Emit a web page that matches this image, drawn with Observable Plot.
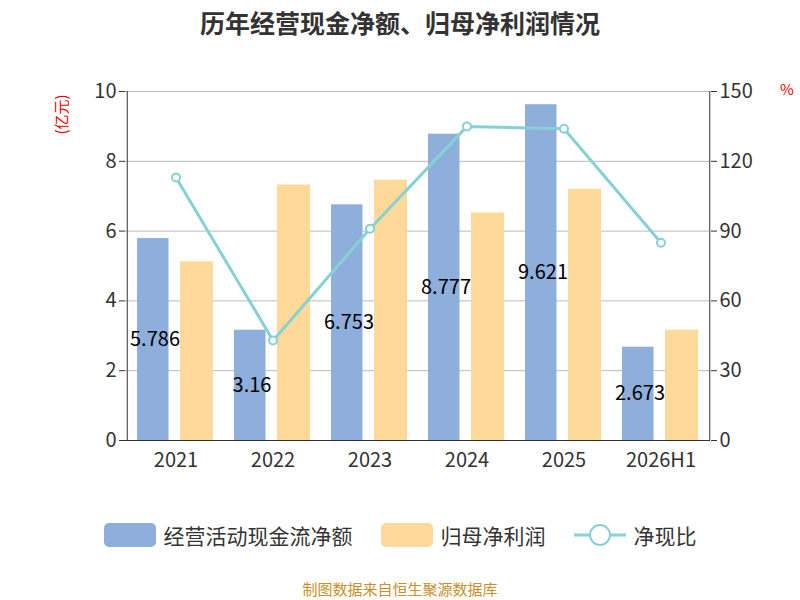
<!DOCTYPE html>
<html><head><meta charset="utf-8">
<script src="https://cdn.jsdelivr.net/npm/d3@7"></script>
<script src="https://cdn.jsdelivr.net/npm/@observablehq/plot@0.6"></script>
<style>
body{margin:0;width:800px;height:600px;font-family:"Noto Sans CJK SC","Noto Sans",sans-serif;background:#fff;position:relative;overflow:hidden}
#title{position:absolute;top:4px;width:800px;text-align:center;font-size:25px;font-weight:bold;color:#333}
#chart{position:absolute;top:60px;left:0}
#legend{position:absolute;top:520px;width:800px;display:flex;justify-content:center;gap:28px;font-size:21px;color:#333;align-items:center}
#legend span{display:flex;align-items:center;gap:8px}
#cap{position:absolute;top:578px;width:800px;text-align:center;font-size:15px;color:#c8902a}
.u{position:absolute;color:#e00;font-size:15px;white-space:nowrap}
</style></head><body>
<div id="title">历年经营现金净额、归母净利润情况</div>
<div id="chart"></div>
<div class="u" style="left:40px;top:104px;transform:rotate(-90deg)">(亿元)</div>
<div class="u" style="left:780px;top:78px">%</div>
<div id="legend">
<span><svg width="52" height="26"><rect x="0" y="1" width="52" height="24" rx="5" fill="#8eaedb"/></svg>经营活动现金流净额</span>
<span><svg width="52" height="26"><rect x="0" y="1" width="52" height="24" rx="5" fill="#ffd999"/></svg>归母净利润</span>
<span><svg width="52" height="26"><line x1="0" y1="13" x2="52" y2="13" stroke="#86d1d4" stroke-width="3"/><circle cx="26" cy="13" r="10" fill="#fff" stroke="#86d1d4" stroke-width="2"/></svg>净现比</span>
</div>
<div id="cap">制图数据来自恒生聚源数据库</div>
<script>
const years=["2021","2022","2023","2024","2025","2026H1"];
const cashFlow=[5.786,3.16,6.753,8.777,9.621,2.673];
const netProfit=[5.12,7.32,7.46,6.52,7.2,3.16];
const ratio=[113,43,91,135,134,85];
const rows=years.map((y,i)=>({year:y,cf:cashFlow[i],np:netProfit[i],r:ratio[i]/15}));
const p=Plot.plot({
 width:800,height:460,marginLeft:125,marginRight:90,marginTop:31,marginBottom:80,
 style:{fontSize:"20px",fontFamily:"Noto Sans CJK SC, Noto Sans, sans-serif",color:"#333"},
 x:{domain:years,padding:0,label:null},
 y:{domain:[0,10],label:null},
 marks:[
  Plot.gridY([0,2,4,6,8,10],{stroke:"#bbb",strokeOpacity:1}),
  Plot.axisY({anchor:"left",ticks:[0,2,4,6,8,10],tickSize:6,label:null,fontSize:20}),
  Plot.axisY({anchor:"right",ticks:[0,2,4,6,8,10],tickFormat:d=>d*15,tickSize:6,label:null,fontSize:20}),
  Plot.barY(rows,{x:"year",y:"cf",fill:"#8eaedb",insetLeft:10,insetRight:55.5}),
  Plot.barY(rows,{x:"year",y:"np",fill:"#ffd999",insetLeft:53,insetRight:11}),
  Plot.text(rows,{x:"year",y:d=>d.cf/2,text:d=>String(d.cf),dx:-21,fontSize:20,fill:"#000"}),
  Plot.line(rows,{x:"year",y:"r",stroke:"#86d1d4",strokeWidth:3}),
  Plot.dot(rows,{x:"year",y:"r",r:4,fill:"#fff",stroke:"#86d1d4",strokeWidth:2}),
  Plot.ruleY([0],{stroke:"#333"}),
  Plot.ruleX([0],{x:()=>years[0],stroke:"#333",dx:-48.75}),
  Plot.ruleX([0],{x:()=>years[5],stroke:"#333",dx:48.75}),
  Plot.axisX({tickSize:0,fontSize:20,tickPadding:12})
 ]
});
document.getElementById("chart").append(p);
</script></body></html>
